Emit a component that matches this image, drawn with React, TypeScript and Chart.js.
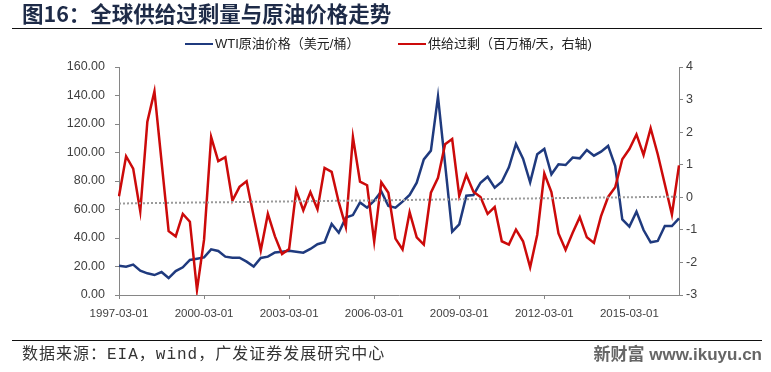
import React, { useEffect, useRef } from 'react';
import { Chart, registerables } from 'chart.js';

Chart.register(...registerables);

// Quarterly categories 1997-03-01 .. 2016-12-01
const years: number[] = [];
for (let y = 1997; y <= 2016; y++) years.push(y);
const months = ['03', '06', '09', '12'];
const categories: string[] = [];
years.forEach((y) => months.forEach((m) => categories.push(`${y}-${m}-01`)));

const tickLabels = ['1997-03-01', '2000-03-01', '2003-03-01', '2006-03-01', '2009-03-01', '2012-03-01', '2015-03-01'];

const leftTicks = [0, 20, 40, 60, 80, 100, 120, 140, 160];
const rightTicks = [-3, -2, -1, 0, 1, 2, 3, 4];

// WTI crude price (USD/bbl)
const wtiPrice = [
  20.6, 19.9, 21.3, 17.1, 15.2, 14.0, 16.1, 11.9, 16.8, 19.4,
  24.6, 25.5, 26.4, 32.0, 30.9, 26.9, 26.2, 26.2, 23.4, 19.9,
  26.0, 26.9, 29.9, 30.4, 31.1, 30.4, 29.7, 32.3, 35.6, 37.0,
  49.8, 43.7, 54.3, 56.1, 65.0, 61.3, 66.2, 72.7, 62.5, 61.3,
  65.5, 70.2, 78.8, 95.2, 101.3, 139.2, 92.0, 44.4, 49.6, 69.7,
  70.2, 78.8, 83.0, 75.3, 79.5, 89.6, 106.0, 95.7, 79.1, 98.7,
  102.5, 84.7, 91.7, 91.2, 96.4, 95.9, 101.8, 97.8, 100.6, 104.6,
  90.5, 53.1, 48.0, 58.5, 45.6, 37.0, 37.9, 48.4, 48.4, 53.8,
];

// Global oversupply (million bbl/day, right axis)
const oversupply = [
  0.03, 1.26, 0.88, -0.43, 2.32, 3.25, 1.1, -1.04, -1.2, -0.51,
  -0.75, -2.84, -1.3, 1.85, 1.11, 1.23, -0.1, 0.32, 0.49, -0.58,
  -1.63, -0.51, -1.2, -1.74, -1.59, 0.22, -0.4, 0.16, -0.37, 0.9,
  0.78, -0.15, -0.91, 1.85, 0.48, 0.37, -1.36, 0.46, 0.14, -1.27,
  -1.6, -0.46, -1.23, -1.45, 0.14, 0.6, 1.63, 1.79, 0.04, 0.69,
  0.17, 0.01, -0.51, -0.3, -1.35, -1.45, -0.99, -1.35, -2.15, -1.15,
  0.73, 0.16, -1.11, -1.61, -1.09, -0.61, -1.23, -1.4, -0.58, 0.01,
  0.31, 1.17, 1.48, 1.93, 1.3, 2.12, 1.32, 0.4, -0.53, 0.98,
];

// Linear trend of oversupply: start and end values
const trendEnds = [-0.19, 0.02];

const BLUE = '#1F3A7E';
const RED = '#CC0A0A';
const AXIS = '#868686';
const TICK_TEXT = '#404040';

export default function App() {
  const ref = useRef<HTMLCanvasElement>(null);

  useEffect(() => {
    document.body.style.margin = '0';
    const n = categories.length;
    const trend = categories.map((_, i) => (i === 0 ? trendEnds[0] : i === n - 1 ? trendEnds[1] : null));

    const chart = new Chart(ref.current as HTMLCanvasElement, {
      type: 'line',
      data: {
        labels: categories,
        datasets: [
          {
            label: '供给过剩（百万桶/天，右轴)',
            data: oversupply,
            yAxisID: 'y1',
            borderColor: RED,
            borderWidth: 2.5,
            pointRadius: 0,
            tension: 0,
            order: 1,
          },
          {
            label: 'WTI原油价格（美元/桶）',
            data: wtiPrice,
            yAxisID: 'y',
            borderColor: BLUE,
            borderWidth: 2.5,
            pointRadius: 0,
            tension: 0,
            order: 2,
          },
          {
            label: 'trend',
            data: trend,
            yAxisID: 'y1',
            borderColor: '#9A9A9A',
            borderWidth: 2,
            borderDash: [2, 2],
            pointRadius: 0,
            spanGaps: true,
            order: 0,
          },
        ],
      },
      options: {
        responsive: false,
        animation: false,
        devicePixelRatio: 1,
        layout: { padding: { top: 67, left: 0, right: 0, bottom: 0 } },
        plugins: {
          legend: { display: false },
          tooltip: { enabled: false },
          title: { display: false },
        },
        scales: {
          x: {
            type: 'category',
            offset: false,
            afterFit: (s: any) => {
              s.height = 77;
            },
            border: { display: true, color: AXIS, width: 1 },
            grid: { display: true, drawOnChartArea: false, drawTicks: true, tickLength: 4, color: AXIS },
            ticks: {
              autoSkip: false,
              maxRotation: 0,
              minRotation: 0,
              padding: 8,
              color: TICK_TEXT,
              font: { family: '"Liberation Sans", Arial, sans-serif', size: 11.5 },
              callback: (_v: any, i: number) => (tickLabels.includes(categories[i]) ? categories[i] : null),
            },
          },
          y: {
            position: 'left',
            min: leftTicks[0],
            max: leftTicks[leftTicks.length - 1],
            afterFit: (s: any) => {
              s.width = 119;
            },
            afterBuildTicks: (s: any) => {
              s.ticks = leftTicks.map((v) => ({ value: v }));
            },
            border: { display: true, color: AXIS, width: 1 },
            grid: { display: true, drawOnChartArea: false, drawTicks: true, tickLength: 4, color: AXIS },
            ticks: {
              padding: 10,
              color: TICK_TEXT,
              font: { family: '"Liberation Sans", Arial, sans-serif', size: 12.5 },
              callback: (v: any) => Number(v).toFixed(2),
            },
          },
          y1: {
            position: 'right',
            min: rightTicks[0],
            max: rightTicks[rightTicks.length - 1],
            afterFit: (s: any) => {
              s.width = 92;
            },
            afterBuildTicks: (s: any) => {
              s.ticks = rightTicks.map((v) => ({ value: v }));
            },
            border: { display: true, color: AXIS, width: 1 },
            grid: { display: true, drawOnChartArea: false, drawTicks: true, tickLength: 4, color: AXIS },
            ticks: {
              padding: 3,
              color: TICK_TEXT,
              font: { family: '"Liberation Sans", Arial, sans-serif', size: 12.5 },
              callback: (v: any) => String(v),
            },
          },
        },
      },
    });
    return () => chart.destroy();
  }, []);

  const cjk = '"Liberation Sans", "Noto Sans CJK SC", sans-serif';

  return (
    <div style={{ position: 'fixed', left: 0, top: 0, width: 771, height: 372, background: '#fff', overflow: 'hidden' }}>
      <canvas ref={ref} width={771} height={372} style={{ position: 'absolute', left: 0, top: 0, width: 771, height: 372 }} />
      <div
        style={{
          position: 'absolute',
          left: 22,
          top: -1,
          font: `bold 21.5px "Noto Sans CJK SC", sans-serif`,
          color: '#1E2B48',
          lineHeight: '28px',
          whiteSpace: 'nowrap',
        }}
      >
        图16：全球供给过剩量与原油价格走势
      </div>
      <div style={{ position: 'absolute', left: 12, top: 28, width: 750, height: 0, borderTop: '1.5px solid #111' }} />

      <div style={{ position: 'absolute', left: 185, top: 43, width: 28, height: 0, borderTop: `2.5px solid ${BLUE}` }} />
      <div style={{ position: 'absolute', left: 215, top: 35, font: `13px ${cjk}`, color: '#222', lineHeight: '18px', whiteSpace: 'nowrap' }}>
        WTI原油价格（美元/桶）
      </div>
      <div style={{ position: 'absolute', left: 398, top: 43, width: 28, height: 0, borderTop: `2.5px solid ${RED}` }} />
      <div style={{ position: 'absolute', left: 428, top: 35, font: `13px ${cjk}`, color: '#222', lineHeight: '18px', whiteSpace: 'nowrap' }}>
        供给过剩（百万桶/天，右轴)
      </div>

      <div style={{ position: 'absolute', left: 12, top: 340, width: 750, height: 0, borderTop: '1.5px solid #111' }} />
      <div
        style={{
          position: 'absolute',
          left: 22,
          top: 345,
          font: `16px "Liberation Mono", "Noto Sans CJK SC", monospace`,
          letterSpacing: '1px',
          color: '#333',
          lineHeight: '20px',
          whiteSpace: 'nowrap',
        }}
      >
        数据来源：EIA，wind，广发证券发展研究中心
      </div>
      <div
        style={{
          position: 'absolute',
          right: 9,
          top: 344,
          font: `bold 17px "Liberation Sans", "Noto Sans CJK SC", sans-serif`,
          color: '#666',
          lineHeight: '22px',
          whiteSpace: 'nowrap',
        }}
      >
        新财富 www.ikuyu.cn
      </div>
    </div>
  );
}
